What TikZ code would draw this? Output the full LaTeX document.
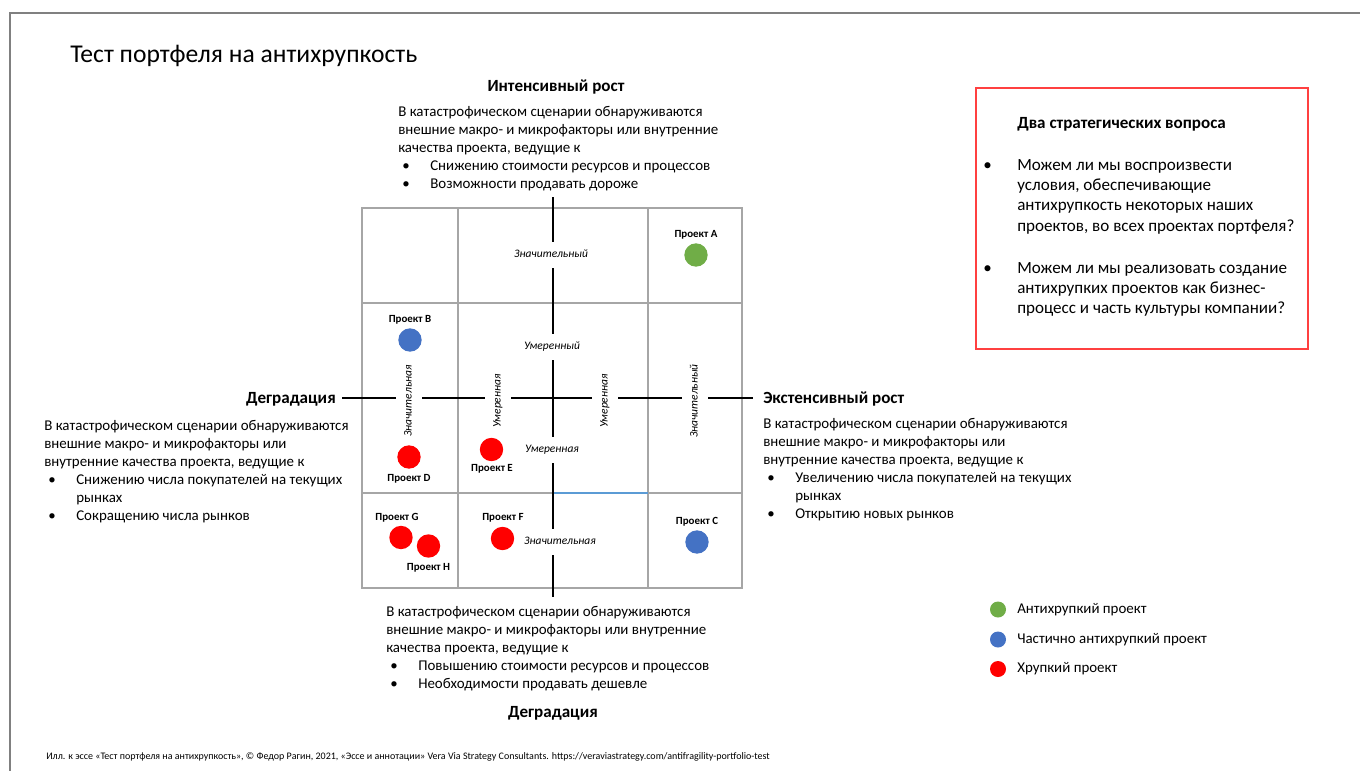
\documentclass[tikz,border=0pt]{standalone}
\usepackage{fontspec}
\setmainfont{Carlito}
\definecolor{framegray}{HTML}{808080}
\definecolor{gridgray}{HTML}{A6A6A6}
\definecolor{pgreen}{HTML}{70AD47}
\definecolor{pblue}{HTML}{4472C4}
\definecolor{pred}{HTML}{FF0000}
\definecolor{lblue}{HTML}{5B9BD5}
\definecolor{boxred}{HTML}{FF4040}
\newcommand\bodyf{\fontsize{11.2}{13.5}\selectfont}
\newcommand\bul{\makebox[24pt][l]{\hspace{3pt}\textbullet}}
\newcommand\bcont{\hspace*{24pt}}
\begin{document}
\begin{tikzpicture}[x=0.75pt,y=-0.75pt,
  gridline/.style={draw=gridgray,line width=1.5pt},
  axisline/.style={draw=black,line width=1.5pt},
  lvl/.style={font=\fontsize{8.6}{10}\selectfont\itshape,fill=white,inner xsep=1pt,inner ysep=5.5pt,text height=6pt,text depth=2pt},
  proj/.style={circle,minimum size=17.5pt,inner sep=0pt,draw=none},
  plabel/.style={font=\fontsize{8.2}{9.5}\selectfont\bfseries,inner sep=0pt},
  para/.style={font=\bodyf,align=left,anchor=north west,inner sep=0pt},
  head/.style={font=\fontsize{12.8}{15}\selectfont\bfseries,inner sep=0pt},
  qtext/.style={font=\fontsize{12.8}{15.3}\selectfont,align=left,anchor=north west,inner sep=0pt},
  legdot/.style={circle,minimum size=12pt,inner sep=0pt,draw=none},
  legtext/.style={font=\fontsize{11.2}{13}\selectfont,anchor=west,inner sep=0pt}]
\useasboundingbox (0,0) rectangle (1360,771);
% frame
\draw[framegray,line width=1.5pt] (10,771) -- (10,13) -- (1360,13);
% title
\node[font=\fontsize{19.2}{23}\selectfont,anchor=west,inner sep=0pt] (title) at (70,56) {Тест портфеля на антихрупкость};
% grid
\draw[gridline] (362,208) rectangle (742,588);
\draw[gridline] (458,208) -- (458,588);
\draw[gridline] (648,208) -- (648,588);
\draw[gridline] (362,303) -- (742,303);
\draw[gridline] (362,493) -- (742,493);
\draw[lblue,line width=1pt] (553,493) -- (648,493);
% axes
\coordinate (vtop) at (553,197);
\coordinate (vbot) at (553,597);
\coordinate (hleft) at (342,398);
\coordinate (hright) at (753,398);
\draw[axisline] (vtop) -- (vbot);
\draw[axisline] (hleft) -- (hright);
% axis level labels
\node[lvl] (l1) at (551,255) {Значительный};
\node[lvl] (l2) at (552,347) {Умеренный};
\node[lvl] (l3) at (552,450) {Умеренная};
\node[lvl] (l4) at (560,542) {Значительная};
\node[lvl,rotate=90] (r1) at (409,401) {Значительная};
\node[lvl,rotate=90] (r2) at (498,401) {Умеренная};
\node[lvl,rotate=90] (r3) at (605,401) {Умеренная};
\node[lvl,rotate=90] (r4) at (695,401) {Значительный};
% projects
\node[proj,fill=pgreen] (pA) at (696,255) {};
\node[plabel] (tA) at (696,235) {Проект A};
\node[proj,fill=pblue] (pB) at (410,340) {};
\node[plabel] (tB) at (410,320) {Проект B};
\node[proj,fill=pred] (pD) at (409,457) {};
\node[plabel] (tD) at (409,479) {Проект D};
\node[proj,fill=pred] (pE) at (491.5,449.5) {};
\node[plabel] (tE) at (492,469) {Проект E};
\node[proj,fill=pred] (pG) at (401,537.5) {};
\node[plabel] (tG) at (397,517.5) {Проект G};
\node[proj,fill=pred] (pH) at (428.5,546) {};
\node[plabel] (tH) at (428.5,568) {Проект H};
\node[proj,fill=pred] (pF) at (502.5,538.5) {};
\node[plabel] (tF) at (503,518) {Проект F};
\node[proj,fill=pblue] (pC) at (697,542) {};
\node[plabel] (tC) at (697,522) {Проект C};
% top block
\node[head] (htop) at (556,87) {Интенсивный рост};
\node[para] (ptop) at (398,104) {\strut В катастрофическом сценарии обнаруживаются\\
внешние макро- и микрофакторы или внутренние\\
качества проекта, ведущие к\\
\bul Снижению стоимости ресурсов и процессов\\
\bul Возможности продавать дороже};
% left block
\node[head,anchor=east] (hleftt) at (336,399) {Деградация};
\node[para] (pleft) at (44,418) {\strut В катастрофическом сценарии обнаруживаются\\
внешние макро- и микрофакторы или\\
внутренние качества проекта, ведущие к\\
\bul Снижению числа покупателей на текущих\\
\bcont рынках\\
\bul Сокращению числа рынков};
% right block
\node[head,anchor=west] (hrightt) at (763,399) {Экстенсивный рост};
\node[para] (pright) at (763,416) {\strut В катастрофическом сценарии обнаруживаются\\
внешние макро- и микрофакторы или\\
внутренние качества проекта, ведущие к\\
\bul Увеличению числа покупателей на текущих\\
\bcont рынках\\
\bul Открытию новых рынков};
% bottom block
\node[para] (pbot) at (386,604) {\strut В катастрофическом сценарии обнаруживаются\\
внешние макро- и микрофакторы или внутренние\\
качества проекта, ведущие к\\
\bul Повышению стоимости ресурсов и процессов\\
\bul Необходимости продавать дешевле};
\node[head] (hbot) at (553,713) {Деградация};
% question box
\draw[boxred,line width=0.9pt] (976,88) rectangle (1308,349);
\node[head,anchor=west] (qtitle) at (1017,124) {Два стратегических вопроса};
\node[qtext] (q1) at (1017,155.5) {\strut\llap{\textbullet\hspace{19pt}}Можем ли мы воспроизвести\\
условия, обеспечивающие\\
антихрупкость некоторых наших\\
проектов, во всех проектах портфеля?};
\node[qtext] (q2) at (1017,258.5) {\strut\llap{\textbullet\hspace{19pt}}Можем ли мы реализовать создание\\
антихрупких проектов как бизнес-\\
процесс и часть культуры компании?};
% legend
\node[legdot,fill=pgreen] (lg1) at (998,609.5) {};
\node[legtext] (lt1) at (1017,609.5) {Антихрупкий проект};
\node[legdot,fill=pblue] (lg2) at (998,639.5) {};
\node[legtext] (lt2) at (1017,639.5) {Частично антихрупкий проект};
\node[legdot,fill=pred] (lg3) at (998,669) {};
\node[legtext] (lt3) at (1017,669) {Хрупкий проект};
% footnote
\node[font=\fontsize{7.5}{9}\selectfont,anchor=west,inner sep=0pt] (foot) at (46,757) {Илл. к эссе «Тест портфеля на антихрупкость», © Федор Рагин, 2021, «Эссе и аннотации» Vera Via Strategy Consultants. https://veraviastrategy.com/antifragility-portfolio-test};
\end{tikzpicture}
\end{document}
